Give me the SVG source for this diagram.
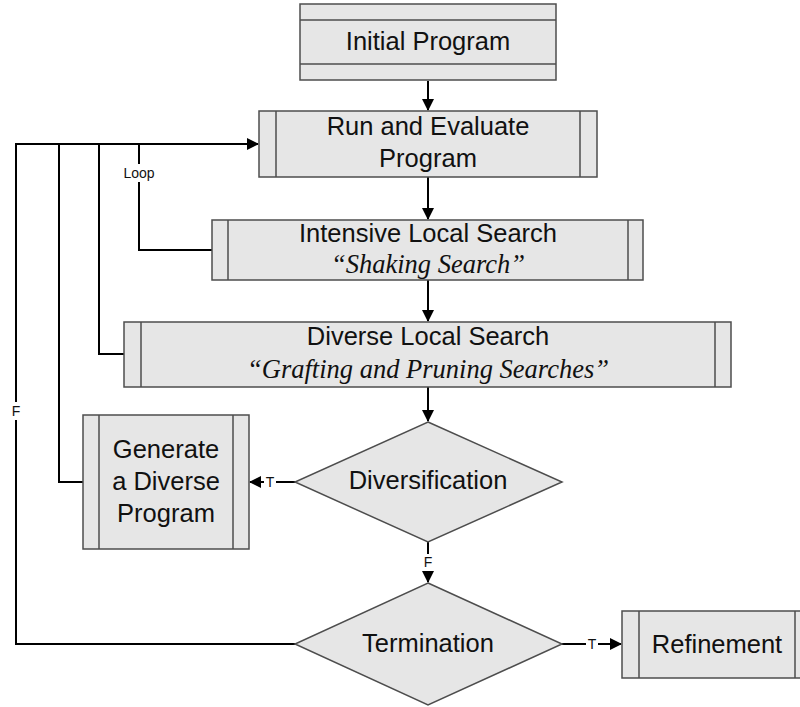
<svg xmlns="http://www.w3.org/2000/svg" width="800" height="707" viewBox="0 0 800 707">
<defs>
<marker id="arr" markerUnits="userSpaceOnUse" markerWidth="12" markerHeight="12" refX="11" refY="6" orient="auto">
<path d="M0,0 L12,6 L0,12 z" fill="#000"/>
</marker>
<style>
.box{fill:#e6e6e6;stroke:#4d4d4d;stroke-width:1.5}
.in{stroke:#4d4d4d;stroke-width:1.5;fill:none}
.t{font-family:"Liberation Sans",Arial,sans-serif;font-size:25.5px;fill:#111;text-anchor:middle}
.i{font-family:"Liberation Serif","Times New Roman",serif;font-size:26.5px;font-style:italic;fill:#111;text-anchor:middle}
.c{stroke:#000;stroke-width:2;fill:none}
.lb{font-family:"Liberation Sans",Arial,sans-serif;font-size:14px;fill:#111;text-anchor:middle}
.bg{fill:#fff}
</style>
</defs>
<rect width="800" height="707" fill="#fff"/>
<g id="connectors">
<path class="c" d="M428,81 V110" marker-end="url(#arr)"/>
<path class="c" d="M428,177 V219" marker-end="url(#arr)"/>
<path class="c" d="M428,280 V321" marker-end="url(#arr)"/>
<path class="c" d="M428,387 V421" marker-end="url(#arr)"/>
<path class="c" d="M295,482 H250" marker-end="url(#arr)"/>
<path class="c" d="M428,542 V582" marker-end="url(#arr)"/>
<path class="c" d="M562,644 H621" marker-end="url(#arr)"/>
<path class="c" d="M295,644 H16 V144 H258" marker-end="url(#arr)"/>
<path class="c" d="M212,250 H139 V144"/>
<path class="c" d="M124,354 H99 V144"/>
<path class="c" d="M83,482 H59 V144"/>
<rect class="bg" x="120" y="164" width="38" height="18"/>
<text class="lb" x="139" y="178">Loop</text>
<rect class="bg" x="9" y="402" width="14" height="18"/>
<text class="lb" x="16" y="416">F</text>
<rect class="bg" x="264" y="474" width="12" height="16"/>
<text class="lb" x="270" y="487">T</text>
<rect class="bg" x="421" y="554" width="14" height="17"/>
<text class="lb" x="428" y="567">F</text>
<rect class="bg" x="586" y="636" width="12" height="16"/>
<text class="lb" x="592" y="649">T</text>
</g>
<g id="initial">
<rect class="box" x="300" y="4" width="256" height="76"/>
<path class="in" d="M300,20 H556 M300,64 H556"/>
<text class="t" x="428" y="50">Initial Program</text>
</g>
<g id="run">
<rect class="box" x="259" y="111" width="338" height="66"/>
<path class="in" d="M276,111 V177 M580,111 V177"/>
<text class="t" x="428" y="135">Run and Evaluate</text>
<text class="t" x="428" y="167">Program</text>
</g>
<g id="intensive">
<rect class="box" x="212" y="220" width="431" height="60"/>
<path class="in" d="M228,220 V280 M628,220 V280"/>
<text class="t" x="428" y="242">Intensive Local Search</text>
<text class="i" x="428" y="273">“Shaking Search”</text>
</g>
<g id="diverse">
<rect class="box" x="124" y="322" width="607" height="65"/>
<path class="in" d="M141,322 V387 M715,322 V387"/>
<text class="t" x="428" y="345">Diverse Local Search</text>
<text class="i" x="428" y="378">“Grafting and Pruning Searches”</text>
</g>
<g id="generate">
<rect class="box" x="83" y="415" width="166" height="134"/>
<path class="in" d="M99,415 V549 M233,415 V549"/>
<text class="t" x="166" y="458">Generate</text>
<text class="t" x="166" y="490">a Diverse</text>
<text class="t" x="166" y="522">Program</text>
</g>
<g id="diversification">
<polygon class="box" points="428,422 562,482 428,542 295,482"/>
<text class="t" x="428" y="489">Diversification</text>
</g>
<g id="termination">
<polygon class="box" points="428,583 562,644 428,705 295,644"/>
<text class="t" x="428" y="652">Termination</text>
</g>
<g id="refinement">
<rect class="box" x="622" y="611" width="189" height="67"/>
<path class="in" d="M639,611 V678 M795,611 V678"/>
<text class="t" x="717" y="653">Refinement</text>
</g>
</svg>
